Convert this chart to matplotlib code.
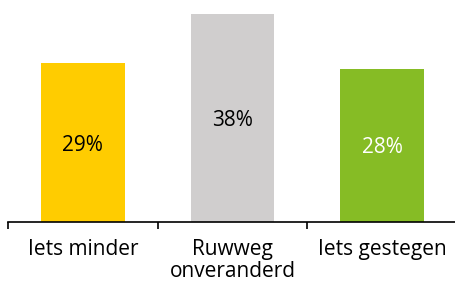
import matplotlib as mpl
mpl.use('Agg')
import matplotlib.pyplot as plt
import numpy as np

categories = ['Iets minder', 'Ruwweg\nonveranderd', 'Iets gestegen']
values = [29, 38, 28]
labels = ['29%', '38%', '28%']
colors = ['#FFCC00', '#D0CECE', '#86BC25']
text_colors = ['#000000', '#000000', '#FFFFFF']

plt.rcParams['font.family'] = ['Open Sans', 'DejaVu Sans']

fig = plt.figure(figsize=(4.56, 2.84), dpi=100)
ax = fig.add_axes([8 / 456, 62 / 284, 449 / 456, 219 / 284])

x = np.arange(len(categories))
ax.bar(x, values, width=0.56, color=colors)
for xi, v, lab, tc in zip(x, values, labels, text_colors):
    ax.text(xi, v / 2, lab, ha='center', va='center_baseline', fontsize=15, color=tc)

ax.set_xlim(-0.5, len(categories) - 0.5)
ax.set_ylim(0, 40)

for s in ['top', 'right', 'left']:
    ax.spines[s].set_visible(False)
ax.spines['bottom'].set_linewidth(1.2)
ax.set_yticks([])

# boundary ticks, labels on minor ticks
ax.set_xticks(np.arange(-0.5, len(categories), 1.0))
ax.set_xticklabels([])
ax.tick_params(axis='x', which='major', length=5, width=1.2, direction='out')
ax.set_xticks(x, minor=True)
ax.set_xticklabels(categories, minor=True, fontsize=15, linespacing=1.1, va='top')
ax.tick_params(axis='x', which='minor', length=0, pad=12)

plt.savefig('out.png', dpi=100)
